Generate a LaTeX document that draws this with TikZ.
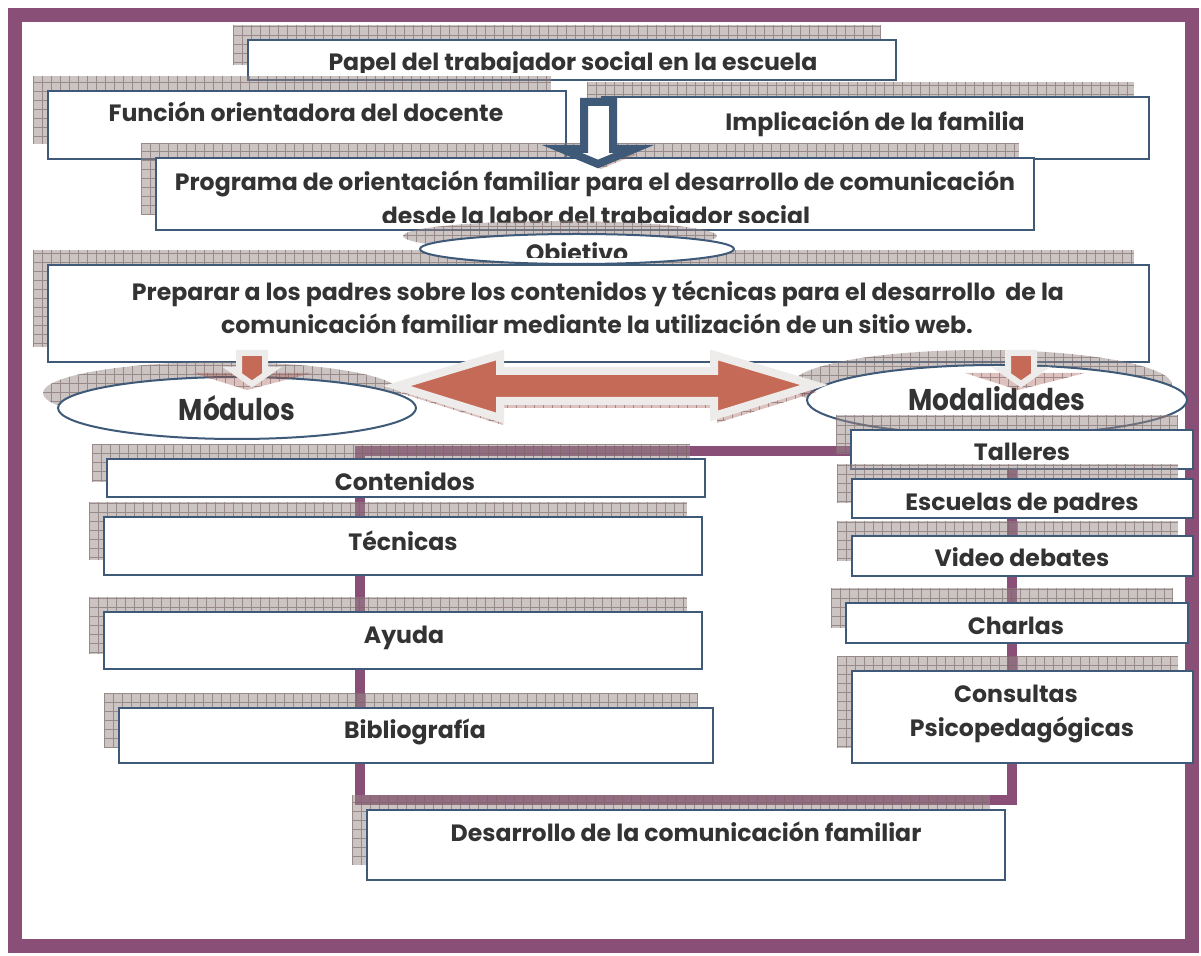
\documentclass[tikz,border=0pt]{standalone}
\usepackage{fontspec}
\setmainfont{Poppins}
\newfontfamily\narrowfont{Poppins}[FakeStretch=0.88]
\usetikzlibrary{fit,shapes.geometric,backgrounds}

\definecolor{framepurple}{RGB}{137,79,119}
\definecolor{boxline}{RGB}{62,90,120}
\definecolor{shadowgrey}{RGB}{155,137,137}
\definecolor{gridgrey}{RGB}{120,100,100}
\definecolor{shadowpink}{RGB}{160,80,70}
\definecolor{salmon}{RGB}{196,106,86}
\definecolor{arrowrim}{RGB}{238,236,234}
\definecolor{textgrey}{RGB}{51,51,51}

\tikzset{
  hatch/.style={draw=none, fill=shadowgrey, fill opacity=0.5, inner sep=0pt,
    path picture={\draw[gridgrey, line width=0.5pt, draw opacity=0.6]
      (path picture bounding box.south west) grid[step=4.5pt] (path picture bounding box.north east);}},
  pinkhatch/.style={hatch, fill=shadowpink, fill opacity=0.35},
  box/.style={draw=boxline, line width=1pt, fill=white, inner sep=0pt},
  oval/.style={ellipse, draw=boxline, line width=1pt, fill=white, inner sep=0pt},
  txt/.style={anchor=base, text=textgrey, inner sep=0pt, font=\bfseries\fontsize{11.8}{14}\selectfont},
  bigtxt/.style={txt, font=\narrowfont\bfseries\fontsize{15}{18}\selectfont},
  spine/.style={framepurple, line width=5pt},
  blockarrow/.style={draw=arrowrim, fill=salmon, line join=miter},
}

% shadow + box: name, x1, y1, x2, y2 (pixels)
\newcommand\shbox[5]{%
  \node[hatch, fit={({#2-15},{#3-15}) ({#4-15},{#5-15})}] (#1sh) {};
  \node[box, fit={(#2,#3) (#4,#5)}] (#1) {};}

\begin{document}
\begin{tikzpicture}[x=0.5pt, y=-0.5pt]
  \useasboundingbox (0,0) rectangle (1201,956);
  \draw[framepurple, line width=7pt] (15,15) rectangle (1192,946);

  % top row
  \shbox{papel}{248}{40}{896}{80}
  \begin{scope}
    \clip (248,40) rectangle (896,73);
    \node[txt] (papeltxt) at (573,71) {Papel del trabajador social en la escuela};
  \end{scope}
  \shbox{funcion}{48}{91}{566}{159}
  \node[txt] (funciontxt) at (306,122) {Función orientadora del docente};
  \shbox{implic}{602}{97}{1149}{159}
  \node[txt] (implictxt) at (875,131) {Implicación de la familia};
  \shbox{programa}{156}{158}{1034}{230}
  \node[txt] (programatxt) at (595,191) {Programa de orientación familiar para el desarrollo de comunicación};
  \begin{scope}
    \clip (156,158) rectangle (1034,223);
    \node[txt] (programatxtb) at (596,225) {desde la labor del trabajador social};
  \end{scope}

  % arrow into the programme
  \fill[pinkhatch, shift={(3,5)}] (584,102) -- (613,102) -- (613,149) -- (634,149) -- (598,164) -- (562,149) -- (584,149) -- cycle;
  \filldraw[draw=boxline, fill=white, line width=4pt, line join=miter]
    (584,102) -- (613,102) -- (613,149) -- (634,149) -- (598,164) -- (562,149) -- (584,149) -- cycle;

  % objective
  \shbox{preparar}{48}{265}{1149}{362}
  \node[txt] (preparartxt) at (598,301) {Preparar a los padres sobre los contenidos y técnicas para el desarrollo\ \ de la};
  \node[txt] (preparartxtb) at (597,334) {comunicación familiar mediante la utilización de un sitio web.};
  \node[hatch, ellipse, minimum width=157pt, minimum height=15pt] (objetivosh) at (560,236) {};
  \node[oval, minimum width=157pt, minimum height=15pt] (objetivo) at (577,249) {};
  \begin{scope}
    \clip (420,234) rectangle (734,258);
    \node[txt] (objetivotxt) at (577,262) {Objetivo};
  \end{scope}

  % modules and modalities
  \node[hatch, ellipse, minimum width=179pt, minimum height=31pt] (modulossh) at (222,393) {};
  \node[oval, minimum width=179pt, minimum height=31pt] (modulos) at (237,408) {};
  \node[bigtxt] (modulostxt) at (237,421) {Módulos};
  \node[hatch, ellipse, minimum width=190pt, minimum height=35pt] (modalsh) at (982,385) {};
  \node[oval, minimum width=190pt, minimum height=35pt] (modal) at (997,400) {};
  \node[bigtxt] (modaltxt) at (997,411) {Modalidades};

  \fill[pinkhatch, shift={(3,7)}] (397,386) -- (500,355) -- (500,371) -- (714,371) -- (714,355) -- (814,385) -- (714,416) -- (714,401) -- (500,401) -- (500,418) -- cycle;
  \filldraw[blockarrow, line width=4pt]
    (397,386) -- (500,355) -- (500,371) -- (714,371) -- (714,355) -- (814,385) -- (714,416) -- (714,401) -- (500,401) -- (500,418) -- cycle;

  \fill[pinkhatch] (193,373) -- (312,373) -- (247,390) -- cycle;
  \filldraw[blockarrow, line width=3pt]
    (239,353) -- (265,353) -- (265,370) -- (272,370) -- (252,384) -- (232,370) -- (239,370) -- cycle;
  \fill[pinkhatch] (965,373) -- (1085,373) -- (1018,390) -- cycle;
  \filldraw[blockarrow, line width=3pt]
    (1008,353) -- (1034,353) -- (1034,370) -- (1041,370) -- (1021,384) -- (1001,370) -- (1008,370) -- cycle;

  % left column
  \shbox{contenidos}{107}{459}{705}{497}
  \node[txt] (contenidostxt) at (405,491) {Contenidos};
  \shbox{tecnicas}{104}{517}{702}{575}
  \node[txt] (tecnicastxt) at (403,551) {Técnicas};
  \shbox{ayuda}{104}{612}{702}{669}
  \node[txt] (ayudatxt) at (404,644) {Ayuda};
  \shbox{biblio}{119}{708}{713}{763}
  \node[txt] (bibliotxt) at (415,739) {Bibliografía};

  % right column
  \shbox{talleres}{851}{430}{1193}{469}
  \node[txt] (tallerestxt) at (1022,461) {Talleres};
  \shbox{escuelas}{852}{479}{1193}{518}
  \begin{scope}
    \clip (852,479) rectangle (1193,513);
    \node[txt] (escuelastxt) at (1022,511) {Escuelas de padres};
  \end{scope}
  \shbox{video}{852}{536}{1193}{576}
  \node[txt] (videotxt) at (1022,567) {Video debates};
  \shbox{charlas}{846}{603}{1188}{643}
  \node[txt] (charlastxt) at (1016,635) {Charlas};
  \shbox{consultas}{852}{671}{1193}{763}
  \node[txt] (consultastxt) at (1016,703) {Consultas};
  \node[txt] (consultastxtb) at (1022,737) {Psicopedagógicas};

  % result
  \shbox{desarrollo}{367}{810}{1005}{880}
  \node[txt] (desarrollotxt) at (686,842) {Desarrollo de la comunicación familiar};

  % purple connectors behind the boxes
  \coordinate (spineL) at (360,451);
  \coordinate (spineLB) at (360,800);
  \coordinate (spineRB) at (1012,800);
  \begin{scope}[on background layer]
    \fill[white] (0,0) rectangle (1201,956);
    \draw[spine] (spineL -| talleres.west) -- (spineL) -- (spineLB) -- (spineRB) -- (spineRB |- talleres.south);
  \end{scope}
\end{tikzpicture}
\end{document}
